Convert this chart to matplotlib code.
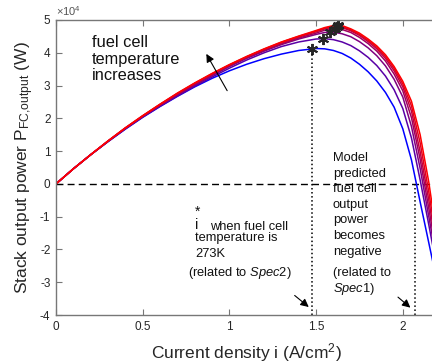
import numpy as np
import matplotlib
matplotlib.use("Agg")
import matplotlib.pyplot as plt

plt.rcParams['font.family'] = ['Liberation Sans', 'DejaVu Sans']
plt.rcParams['mathtext.fontset'] = 'custom'
plt.rcParams['mathtext.rm'] = 'Liberation Sans'
plt.rcParams['mathtext.it'] = 'Liberation Sans:italic'
plt.rcParams['axes.unicode_minus'] = False

# current density (A/cm^2)
current = [0, 0.1, 0.2, 0.3, 0.4, 0.5, 0.6, 0.7, 0.8, 0.9, 1.0, 1.1, 1.2, 1.3, 1.4,
           1.5, 1.55, 1.6, 1.65, 1.7, 1.75, 1.8, 1.85, 1.9, 1.95, 2.0, 2.05, 2.1, 2.15, 2.2]

# stack output power (x1e4 W), one curve per fuel cell temperature (cold -> hot)
p_t0 = [0, .46, .89, 1.29, 1.67, 2.03, 2.36, 2.67, 2.96, 3.22, 3.45, 3.65, 3.82, 3.96, 4.07,
        4.13, 4.12, 4.07, 3.98, 3.84, 3.65, 3.42, 3.14, 2.79, 2.34, 1.68, 0.73, -0.55, -1.80, -3.05]
p_t1 = [0, .46, .89, 1.29, 1.68, 2.04, 2.37, 2.68, 2.98, 3.26, 3.53, 3.78, 4.00, 4.19, 4.33,
        4.42, 4.43, 4.40, 4.33, 4.22, 4.06, 3.86, 3.61, 3.29, 2.87, 2.30, 1.40, 0.12, -1.25, -2.65]
p_t2 = [0, .46, .89, 1.30, 1.69, 2.05, 2.39, 2.71, 3.01, 3.30, 3.58, 3.83, 4.05, 4.25, 4.42,
        4.56, 4.62, 4.63, 4.58, 4.49, 4.34, 4.15, 3.91, 3.60, 3.19, 2.65, 1.75, 0.47, -1.00, -2.45]
p_t3 = [0, .46, .89, 1.30, 1.70, 2.06, 2.41, 2.73, 3.04, 3.33, 3.61, 3.85, 4.07, 4.27, 4.45,
        4.60, 4.69, 4.74, 4.71, 4.62, 4.47, 4.28, 4.05, 3.75, 3.35, 2.84, 2.02, 0.75, -0.75, -2.30]
p_t4 = [0, .46, .89, 1.31, 1.70, 2.07, 2.42, 2.75, 3.06, 3.35, 3.62, 3.87, 4.10, 4.30, 4.48,
        4.64, 4.73, 4.78, 4.77, 4.67, 4.53, 4.34, 4.12, 3.83, 3.45, 2.96, 2.22, 0.98, -0.50, -2.15]
p_t5 = [0, .46, .89, 1.31, 1.71, 2.08, 2.43, 2.76, 3.07, 3.36, 3.63, 3.88, 4.11, 4.32, 4.50,
        4.66, 4.75, 4.81, 4.80, 4.70, 4.56, 4.38, 4.17, 3.89, 3.52, 3.05, 2.38, 1.25, -0.25, -1.95]
p_t6 = [0, .46, .89, 1.31, 1.71, 2.08, 2.43, 2.77, 3.08, 3.37, 3.64, 3.89, 4.12, 4.33, 4.51,
        4.68, 4.77, 4.83, 4.83, 4.73, 4.60, 4.42, 4.21, 3.94, 3.58, 3.13, 2.52, 1.50, 0.05, -1.75]
curves = [p_t0, p_t1, p_t2, p_t3, p_t4, p_t5, p_t6]

# maximum power points (i*)
peak_i = [1.477, 1.541, 1.583, 1.608, 1.620, 1.625, 1.628]
peak_p = [4.13, 4.43, 4.63, 4.74, 4.79, 4.82, 4.84]

i_star_273 = 1.477
i_negative = 2.07

y_ticks = [-4, -3, -2, -1, 0, 1, 2, 3, 4, 5]
x_ticks = [0, 0.5, 1, 1.5, 2]
x_ticklabels = ['0', '0.5', '1', '1.5', '2']

heat = [0, 0.35, 0.5, 0.62, 0.75, 0.88, 1.0]

fig = plt.figure(figsize=(4.32, 3.64), dpi=100)
ax = fig.add_axes([56 / 432, 49 / 364, 2.2 * 173.4 / 432, 295 / 364])

ax.axhline(0, color='k', ls='--', lw=1, dashes=(5, 3))
for p, t in zip(curves, heat):
    ax.plot(current, np.array(p) * 1e4, color=(t, 0, 1 - t), lw=1.1)
ax.plot(peak_i, np.array(peak_p) * 1e4, ls='none', marker=(6, 2, 0),
        color='#262626', ms=8, mew=1.4)

ax.plot([i_star_273, i_star_273], [-4e4, 3.97e4], 'k:', lw=1.1)
ax.plot([i_negative, i_negative], [-4e4, 0], 'k:', lw=1.1)

ax.set_xlim(0, 2.2)
ax.set_ylim(-4e4, 5e4)
ax.set_xticks(x_ticks)
ax.set_xticklabels(x_ticklabels)
ax.set_yticks(np.array(y_ticks) * 1e4)
ax.set_yticklabels([str(v) for v in y_ticks])
ax.text(0.0, 1.006, '$\\times$10$^{4}$', transform=ax.transAxes, fontsize=8,
        color='#555555', ha='left', va='bottom')

for s in ax.spines.values():
    s.set_color('#777777')
    s.set_linewidth(1.0)
ax.tick_params(direction='in', top=True, length=4, width=0.8, color='#777777',
               labelsize=8.5, labelcolor='#262626', pad=4)

ax.set_xlabel('Current density i (A/cm$^{\\mathrm{2}}$)', fontsize=12.5, color='#262626', labelpad=6)
ax.set_ylabel('Stack output power P$_{\\mathrm{FC{,}output}}$ (W)', fontsize=12.5, color='#262626',
              labelpad=3)

# annotations
for txt, y in [('fuel cell', 4.17), ('temperature', 3.67), ('increases', 3.16)]:
    ax.text(0.207, y * 1e4, txt, fontsize=11.8, va='baseline', color='#111111')
ax.annotate('', xy=(0.859, 4.04e4), xytext=(0.995, 2.77e4),
            arrowprops=dict(arrowstyle='-|>', color='k', lw=0.8, mutation_scale=12))

ax.text(0.801, -1.39e4, 'i', fontsize=10.5, va='baseline', color='#111111')
ax.text(0.803, -0.98e4, '*', fontsize=10, va='baseline', color='#111111')
ax.text(0.888, -1.41e4, 'when fuel cell', fontsize=9.3, va='baseline', color='#111111')
ax.text(0.801, -1.73e4, 'temperature is', fontsize=9.3, va='baseline', color='#111111')
ax.text(0.801, -2.24e4, '273K', fontsize=9.3, va='baseline', color='#111111')
ax.text(0.761, -2.81e4, '(related to $\\mathit{Spec2}$)', fontsize=9.3, va='baseline',
        color='#111111')

model_lines = ['Model', 'predicted', 'fuel cell', 'output', 'power', 'becomes', 'negative']
for k, txt in enumerate(model_lines):
    ax.text(1.597, (0.70 - 0.477 * k) * 1e4, txt, fontsize=9.3, va='baseline', color='#111111')
ax.text(1.597, -2.81e4, '(related to', fontsize=9.3, va='baseline', color='#111111')
ax.text(1.597, -3.29e4, '$\\mathit{Spec1}$)', fontsize=9.3, va='baseline', color='#111111')

ax.annotate('', xy=(1.470, -3.81e4), xytext=(1.364, -3.35e4),
            arrowprops=dict(arrowstyle='-|>', color='k', lw=0.8, mutation_scale=12))
ax.annotate('', xy=(2.056, -3.83e4), xytext=(1.960, -3.40e4),
            arrowprops=dict(arrowstyle='-|>', color='k', lw=0.8, mutation_scale=12))

fig.savefig('out.png', dpi=100)
